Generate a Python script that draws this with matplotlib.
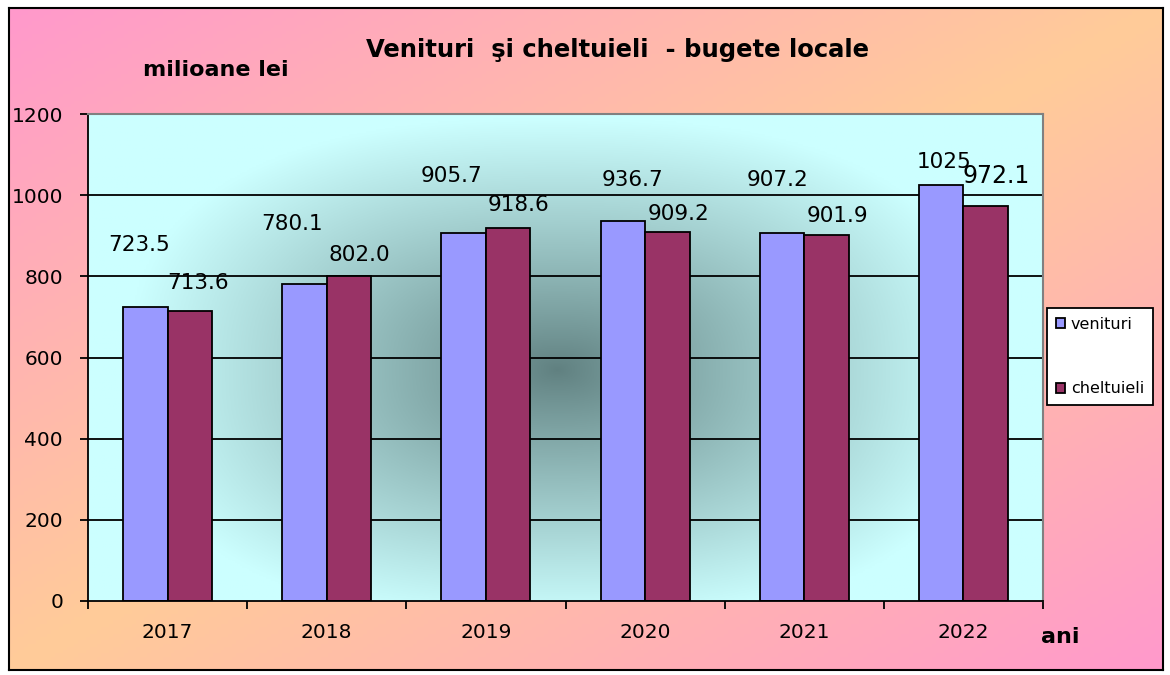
import matplotlib.pyplot as plt
import numpy as np
from matplotlib.patches import Patch

# --- Data ---------------------------------------------------------------------
YEARS = ["2017", "2018", "2019", "2020", "2021", "2022"]
VENITURI = [723.5, 780.1, 905.7, 936.7, 907.2, 1025.0]
CHELTUIELI = [713.6, 802.0, 918.6, 909.2, 901.9, 972.1]
VENITURI_LABELS = ["723.5", "780.1", "905.7", "936.7", "907.2", "1025"]
CHELTUIELI_LABELS = ["713.6", "802.0", "918.6", "909.2", "901.9", "972.1"]

# label offsets (dx in category units, dy in data units), as placed in the original
VEN_OFFSETS = [(-0.04, 154), (-0.075, 149), (-0.075, 141), (0.063, 100), (-0.025, 130), (0.02, 57)]
CHE_OFFSETS = [(0.05, 70), (0.063, 51), (0.063, 57), (0.07, 45), (0.07, 47), (0.063, 75)]

# --- Style --------------------------------------------------------------------
W, H = 1170, 675
PINK = np.array([255, 153, 204]) / 255
PEACH = np.array([255, 204, 153]) / 255
CYAN = np.array([204, 255, 255]) / 255
DARK = np.array([96, 128, 128]) / 255
C_VEN = "#9999FF"
C_CHE = "#993366"
BAR_W = 0.28

plt.rcParams["font.family"] = ["DejaVu Sans"]

fig = plt.figure(figsize=(W / 100, H / 100), dpi=100)
fig.patch.set_facecolor("white")

# figure background: diagonal pink-peach-pink gradient inside a black frame
x0, x1 = 9 / W, 1163 / W
y0, y1 = 1 - 670 / H, 1 - 8 / H
bg = fig.add_axes([x0, y0, x1 - x0, y1 - y0])
gx, gy = np.meshgrid(np.linspace(0, 1, 300), np.linspace(0, 1, 200))
t = (gx + gy) / 2
s = 1 - np.abs(2 * t - 1)
img = PINK[None, None, :] * (1 - s[..., None]) + PEACH[None, None, :] * s[..., None]
bg.imshow(img, extent=[0, 1, 0, 1], aspect="auto", origin="upper")
bg.set_xticks([])
bg.set_yticks([])
for sp in bg.spines.values():
    sp.set_color("black")
    sp.set_linewidth(1.5)
bg.set_zorder(0)

# main plot
ax = fig.add_axes([88 / W, 1 - 601 / H, (1043 - 88) / W, (601 - 114) / H])
ax.set_zorder(1)
ax.set_xlim(-0.5, len(YEARS) - 0.5)
ax.set_ylim(0, 1200)

# plot-area "from center" gradient
px, py = np.meshgrid(np.linspace(-0.5, 5.5, 400), np.linspace(0, 1200, 300))
r = (np.abs((px - 2.45) / 2.7) ** 2.5 + np.abs((py - 570) / 620) ** 2.5) ** (1 / 2.5)
r = np.clip(r, 0, 1) ** 0.9
pimg = DARK[None, None, :] * (1 - r[..., None]) + CYAN[None, None, :] * r[..., None]
ax.imshow(pimg, extent=[-0.5, 5.5, 0, 1200], aspect="auto", origin="lower", zorder=0)

for yv in range(200, 1200, 200):
    ax.axhline(yv, color="black", linewidth=1.3, zorder=1)

x = np.arange(len(YEARS))
ax.bar(x - BAR_W / 2, VENITURI, BAR_W, color=C_VEN, edgecolor="black", linewidth=1.3, zorder=2)
ax.bar(x + BAR_W / 2, CHELTUIELI, BAR_W, color=C_CHE, edgecolor="black", linewidth=1.3, zorder=2)

for i in range(len(YEARS)):
    dx, dy = VEN_OFFSETS[i]
    ax.text(x[i] - BAR_W / 2 + dx, VENITURI[i] + dy, VENITURI_LABELS[i],
            ha="center", va="center", fontsize=15.5, zorder=3)
    dx, dy = CHE_OFFSETS[i]
    fs = 17 if i == len(YEARS) - 1 else 15.5
    ax.text(x[i] + BAR_W / 2 + dx, CHELTUIELI[i] + dy, CHELTUIELI_LABELS[i],
            ha="center", va="center", fontsize=fs, zorder=3)

ax.set_yticks(range(0, 1201, 200))
ax.tick_params(axis="y", direction="out", length=6, width=1.3, pad=12, labelsize=14.5)
ax.set_xticks(x)
ax.set_xticklabels(YEARS)
ax.set_xticks(np.arange(-0.5, len(YEARS), 1.0), minor=True)
ax.tick_params(axis="x", which="major", length=0, pad=16, labelsize=14.5)
ax.tick_params(axis="x", which="minor", direction="out", length=6, width=1.3)

ax.spines["left"].set_linewidth(1.3)
ax.spines["bottom"].set_linewidth(1.3)
ax.spines["top"].set_color("#808080")
ax.spines["right"].set_color("#808080")
ax.spines["top"].set_linewidth(1.5)
ax.spines["right"].set_linewidth(1.5)

# texts
fig.text(618 / W, 1 - 50 / H, "Venituri  şi cheltuieli  - bugete locale",
         ha="center", va="center", fontsize=17.5, fontweight="bold")
fig.text(216 / W, 1 - 70 / H, "milioane lei", ha="center", va="center",
         fontsize=16, fontweight="bold")
fig.text(1060 / W, 1 - 637 / H, "ani", ha="center", va="center",
         fontsize=16, fontweight="bold")

handles = [Patch(facecolor=C_VEN, edgecolor="black", linewidth=1.3),
           Patch(facecolor=C_CHE, edgecolor="black", linewidth=1.3)]
leg = fig.legend(handles, ["venituri", "cheltuieli"], loc="upper left",
                 bbox_to_anchor=(1047 / W, 1 - 308 / H), fontsize=11.5,
                 handlelength=0.6, handleheight=0.6, handletextpad=0.35,
                 labelspacing=3.1, borderpad=0.55, borderaxespad=0,
                 frameon=True, fancybox=False, edgecolor="black", framealpha=1)
leg.get_frame().set_linewidth(1.3)
leg.set_zorder(5)

fig.savefig("out.png", dpi=100, facecolor="white")
